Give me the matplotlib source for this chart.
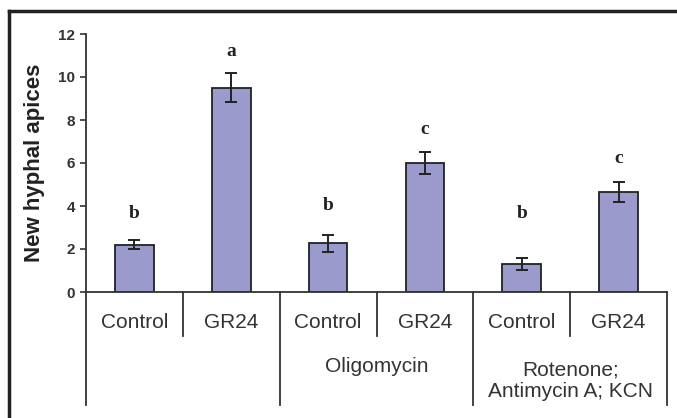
import matplotlib.pyplot as plt
from matplotlib.lines import Line2D

# values
treatments = ["Control", "GR24", "Control", "GR24", "Control", "GR24"]
groups = ["", "Oligomycin", "Rotenone;\nAntimycin A; KCN"]
apices = [2.2, 9.5, 2.26, 6.0, 1.3, 4.65]
errors = [0.2, 0.67, 0.39, 0.5, 0.27, 0.47]
letters = ["b", "a", "b", "c", "b", "c"]
letter_y = [3.67, 11.2, 4.0, 7.58, 3.67, 6.2]

plt.rcParams['font.family'] = ['Liberation Sans', 'DejaVu Sans']

fig = plt.figure(figsize=(6.77, 4.18), dpi=100)
W, H = 677, 418
ax = fig.add_axes([86 / W, 1 - 292 / H, (667 - 86) / W, (292 - 34) / H])

x = list(range(len(apices)))
ax.bar(x, apices, width=0.4, color="#9a9acc", edgecolor="#222222", linewidth=1.3, zorder=2)
ax.errorbar(x, apices, yerr=errors, fmt="none", ecolor="#222222", elinewidth=1.4,
            capsize=4, capthick=1.4, zorder=3)

for xi, lab, ly in zip(x, letters, letter_y):
    ax.text(xi, ly, lab, ha="center", va="center", fontsize=14, fontweight="bold",
            family=["Liberation Serif", "DejaVu Serif"], color="#222222")

ax.set_xlim(-0.5, 5.5)
ax.set_ylim(0, 12)
ax.set_yticks([0, 2, 4, 6, 8, 10, 12])
ax.set_xticks([])
for side in ["top", "right"]:
    ax.spines[side].set_visible(False)
ax.spines["left"].set_color("#333333")
ax.spines["bottom"].set_color("#333333")
ax.spines["left"].set_linewidth(1.3)
ax.spines["bottom"].set_linewidth(1.3)
ax.tick_params(axis="y", length=4, width=1.2, color="#333333", pad=4,
               labelsize=11, labelcolor="#333333")
for t in ax.get_yticklabels():
    t.set_fontweight("bold")
ax.set_ylabel("New hyphal apices", fontsize=16, fontweight="bold", color="#222222", labelpad=9)

# category table below the axis
tr = ax.get_xaxis_transform()
long_y = (292 - 405) / 258
short_y = (292 - 336) / 258
for xs in [-0.5, 1.5, 3.5, 5.5]:
    ax.plot([xs, xs], [0, long_y], transform=tr, color="#333333", lw=1.3, clip_on=False)
for xs in [0.5, 2.5, 4.5]:
    ax.plot([xs, xs], [0, short_y], transform=tr, color="#333333", lw=1.3, clip_on=False)
for xi, lab in zip(x, treatments):
    ax.text(xi, (292 - 322) / 258, lab, transform=tr, ha="center", va="center",
            fontsize=15, color="#333333")
group_y = [0, 367, 380.5]
for gi, g in enumerate(groups):
    if g:
        ax.text(2 * gi + 0.5, (292 - group_y[gi]) / 258, g, transform=tr, ha="center",
                va="center", fontsize=15, color="#333333", linespacing=1.2)

# outer frame (right and bottom cut off in the reference)
fig.lines.append(Line2D([9 / W, 9 / W], [0, 1 - 11 / H], transform=fig.transFigure,
                        color="#222222", lw=2.5, solid_capstyle="projecting"))
fig.lines.append(Line2D([9 / W, 1], [1 - 11 / H, 1 - 11 / H], transform=fig.transFigure,
                        color="#222222", lw=2.5, solid_capstyle="projecting"))

fig.savefig("out.png", dpi=100)
